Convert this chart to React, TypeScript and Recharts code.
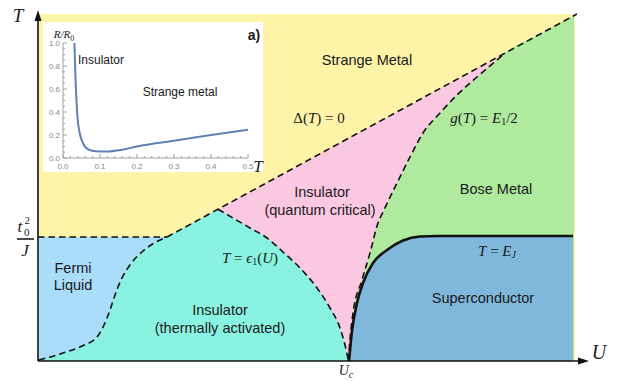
import React from 'react';
import { ComposedChart, LineChart, Area, Line, XAxis, YAxis, ReferenceLine, ReferenceDot } from 'recharts';

type Pt = { u: number; t: number };
const pts = (arr: number[][]): Pt[] => arr.map(([u, t]) => ({ u, t }));

// phase boundaries, as [U, T]
const T0_LEVEL = 12.4;
const TOP = [[0.1, 34.7], [53.7, 34.7]];
const CROSSOVER = [[0, 12.4], [12.9, 12.4]];
const DIAGONAL = [[12.9, 12.4], [53.9, 34.7]];
const PINK_TOP = [[12.9, 12.4], [53.6, 34.54]];
const FERMI_EDGE = [
  [0.1, 0.1], [2.2, 0.7], [4.4, 1.5], [5.9, 2.4], [6.6, 3.6], [7.2, 5.1], [7.7, 6.6],
  [8.3, 8.1], [9.2, 9.6], [10.5, 11.0], [11.8, 11.9], [12.9, 12.4],
];
const TEAL_LEFT = [[0.1, 12.4], [12.9, 12.4], [18.0, 15.17]];
const EPS_ARC = [
  [18.0, 15.17], [19.5, 14.3], [21.2, 13.3], [22.9, 12.3], [24.5, 10.9], [26.2, 9.3],
  [27.9, 7.3], [29.2, 5.3], [30.2, 3.3], [30.7, 1.6], [31.05, 0],
];
const G_CURVE = [
  [31.05, 0], [31.15, 1.5], [31.5, 4.8], [32.4, 8.1], [33.2, 10.8], [34.0, 13.8], [34.5, 14.9],
  [35.9, 17.8], [37.2, 20.4], [38.5, 22.8], [40.2, 24.8], [41.9, 26.6], [43.9, 28.4],
  [45.9, 30.1], [46.7, 30.8],
];
const GREEN_TOP = [...G_CURVE, [50.0, 32.6], [53.6, 34.54]];
const EJ_CURVE = [
  [31.1, 0], [31.4, 3.0], [31.9, 5.8], [32.5, 7.8], [33.5, 9.8], [34.9, 11.1], [36.5, 12.05],
  [38.2, 12.45], [40.0, 12.5], [53.5, 12.5],
];

// inset: R/R0 against T
const INSET_T = [0.031, 0.033, 0.036, 0.039, 0.045, 0.054, 0.068, 0.09, 0.115, 0.16, 0.2, 0.3, 0.4, 0.5];
const INSET_R = [1.0, 0.77, 0.53, 0.36, 0.22, 0.13, 0.075, 0.058, 0.056, 0.072, 0.1, 0.15, 0.2, 0.245];
const INSET_X_TICKS = [0, 0.02, 0.04, 0.06, 0.08, 0.1, 0.12, 0.14, 0.16, 0.18, 0.2, 0.22, 0.24, 0.26, 0.28, 0.3,
  0.32, 0.34, 0.36, 0.38, 0.4, 0.42, 0.44, 0.46, 0.48, 0.5];
const INSET_Y_TICKS = [0, 0.05, 0.1, 0.15, 0.2, 0.25, 0.3, 0.35, 0.4, 0.45, 0.5, 0.55, 0.6, 0.65, 0.7, 0.75,
  0.8, 0.85, 0.9, 0.95, 1.0];

const insetData = INSET_T.map((t, i) => ({ t, r: INSET_R[i] }));

const C = {
  yellow: '#FDF4A8',
  fermi: '#AADDFA',
  teal: '#8AF2E1',
  pink: '#FBC8E1',
  green: '#AFEA9E',
  sc: '#80B8DC',
  ink: '#111',
  frame: '#a0a0a0',
  tickText: '#8a8a8a',
};

const isMajor = (v: number, step: number) => Math.abs(v / step - Math.round(v / step)) < 1e-6;

const InsetTick = (side: 'bottom' | 'left' | 'top' | 'right') => (props: any) => {
  const { x, y, payload } = props;
  const v = payload.value as number;
  const step = side === 'bottom' || side === 'top' ? 0.1 : 0.2;
  const major = isMajor(v, step);
  const len = major ? 4 : 2;
  if (side === 'bottom')
    return (
      <g>
        <line x1={x} y1={y} x2={x} y2={y - len} stroke={C.frame} />
        {major && <text x={x} y={y + 8} textAnchor="middle" dominantBaseline="central" fontSize={8} fill={C.tickText} fontFamily="Liberation Sans, Arial, sans-serif">{v.toFixed(1)}</text>}
      </g>
    );
  if (side === 'left')
    return (
      <g>
        <line x1={x} y1={y} x2={x + len} y2={y} stroke={C.frame} />
        {major && <text x={x - 3} y={y} textAnchor="end" dominantBaseline="central" fontSize={8} fill={C.tickText} fontFamily="Liberation Sans, Arial, sans-serif">{v.toFixed(1)}</text>}
      </g>
    );
  if (side === 'top') return <line x1={x} y1={y} x2={x} y2={y + len} stroke={C.frame} />;
  return <line x1={x} y1={y} x2={x - len} y2={y} stroke={C.frame} />;
};

const ArrowRight = (p: any) => <path d={`M${p.cx + 1},${p.cy} l-11,-3.5 l0,7 z`} fill={C.ink} />;
const ArrowUp = (p: any) => <path d={`M${p.cx},${p.cy - 1} l-3.5,11 l7,0 z`} fill={C.ink} />;

const sans = 'Liberation Sans, Arial, Helvetica, sans-serif';
const serif = 'Liberation Serif, Times New Roman, serif';

const dashed = { stroke: C.ink, strokeWidth: 1.6, strokeDasharray: '6.5 4' };

const App: React.FC = () => {
  const fill = (key: string, data: number[][], color: string, type: 'linear' | 'monotone' = 'monotone') => (
    <Area key={key} data={pts(data)} dataKey="t" type={type} fill={color} fillOpacity={1} stroke="none"
      isAnimationActive={false} dot={false} activeDot={false} />
  );
  const edge = (key: string, data: number[][], style: any, type: 'linear' | 'monotone' = 'monotone') => (
    <Line key={key} data={pts(data)} dataKey="t" type={type} {...style} fill="none" dot={false}
      activeDot={false} isAnimationActive={false} />
  );

  return (
    <div style={{ position: 'relative', width: 615, height: 373 }}>
      <ComposedChart width={615} height={373} margin={{ top: 3, right: 35, bottom: 20, left: 30 }}>
        <XAxis type="number" dataKey="u" domain={[0, 55]} allowDataOverflow hide />
        <YAxis type="number" dataKey="t" domain={[0, 35]} allowDataOverflow hide />
        {fill('yellow', TOP, C.yellow, 'linear')}
        {fill('pink', PINK_TOP, C.pink, 'linear')}
        {fill('green', GREEN_TOP, C.green)}
        {fill('tealLeft', TEAL_LEFT, C.teal, 'linear')}
        {fill('tealArc', EPS_ARC, C.teal)}
        <Area data={pts(FERMI_EDGE)} dataKey={(d: Pt) => [d.t, T0_LEVEL]} type="monotone" fill={C.fermi}
          fillOpacity={1} stroke="none" isAnimationActive={false} dot={false} activeDot={false} />
        {fill('sc', EJ_CURVE, C.sc)}
        {edge('crossover', CROSSOVER, dashed, 'linear')}
        {edge('diagonal', DIAGONAL, dashed, 'linear')}
        {edge('fermi', FERMI_EDGE, dashed)}
        {edge('eps', EPS_ARC, dashed)}
        {edge('g', G_CURVE, dashed)}
        {edge('ej', EJ_CURVE, { stroke: C.ink, strokeWidth: 2.6 })}
        <ReferenceLine segment={[{ x: 0, y: 0 }, { x: 54.2, y: 0 }]} stroke={C.ink} strokeWidth={1.6} />
        <ReferenceLine segment={[{ x: 0, y: 0 }, { x: 0, y: 34.2 }]} stroke={C.ink} strokeWidth={1.6} />
        <ReferenceDot x={55} y={0} r={0} shape={ArrowRight} />
        <ReferenceDot x={0} y={35} r={0} shape={ArrowUp} />
      </ComposedChart>

      <div style={{ position: 'absolute', left: 35, top: 14, width: 220, height: 150, background: '#fff' }}>
        <LineChart width={220} height={150} data={insetData} margin={{ top: 21, right: 15, bottom: 0, left: 0 }}>
          <XAxis type="number" dataKey="t" domain={[0, 0.5]} allowDataOverflow ticks={INSET_X_TICKS} interval={0}
            height={14} tickSize={0} tickMargin={0} tickLine={false} axisLine={{ stroke: C.frame }}
            tick={InsetTick('bottom')} />
          <XAxis xAxisId="top" orientation="top" type="number" dataKey="t" domain={[0, 0.5]} allowDataOverflow
            ticks={INSET_X_TICKS} interval={0} height={0} tickSize={0} tickMargin={0} tickLine={false}
            axisLine={{ stroke: C.frame }} tick={InsetTick('top')} />
          <YAxis type="number" domain={[0, 1]} allowDataOverflow ticks={INSET_Y_TICKS} interval={0} width={20}
            tickSize={0} tickMargin={0} tickLine={false} axisLine={{ stroke: C.frame }} tick={InsetTick('left')} />
          <YAxis yAxisId="right" orientation="right" type="number" domain={[0, 1]} allowDataOverflow
            ticks={INSET_Y_TICKS} interval={0} width={0} tickSize={0} tickMargin={0} tickLine={false}
            axisLine={{ stroke: C.frame }} tick={InsetTick('right')} />
          <Line dataKey="r" type="monotone" stroke="#5E81B5" strokeWidth={2} dot={false} activeDot={false}
            isAnimationActive={false} />
        </LineChart>
      </div>

      {/* text layer, in page coordinates */}
      <svg width={623} height={381} viewBox="0 0 623 381"
        style={{ position: 'absolute', left: -8, top: -8, pointerEvents: 'none' }}>
        <g fill="#1a1a1a">
          {/* main axis labels */}
          <text x={18} y={22} textAnchor="middle" fontFamily={serif} fontStyle="italic" fontSize={19}>T</text>
          <text x={599} y={359} textAnchor="middle" fontFamily={serif} fontStyle="italic" fontSize={20}>U</text>
          <text x={346} y={375} textAnchor="middle" fontFamily={serif} fontStyle="italic" fontSize={14}>
            U<tspan dy={3} fontSize={10}>c</tspan>
          </text>
          <text x={17.5} y={232} fontFamily={serif} fontStyle="italic" fontSize={17}>t</text>
          <text x={24} y={235.5} fontFamily={serif} fontSize={11}>0</text>
          <text x={24.5} y={224} fontFamily={serif} fontSize={11}>2</text>
          <line x1={17} y1={239} x2={34} y2={239} stroke={C.ink} strokeWidth={1.5} />
          <text x={25} y={256} textAnchor="middle" fontFamily={serif} fontStyle="italic" fontSize={17}>J</text>

          {/* region labels */}
          <g fontFamily={sans} fontSize={14.5} textAnchor="middle" dominantBaseline="central">
            <text x={367} y={60}>Strange Metal</text>
            <text x={322} y={192}>Insulator</text>
            <text x={320} y={210}>(quantum critical)</text>
            <text x={496} y={189}>Bose Metal</text>
            <text x={483} y={298}>Superconductor</text>
            <text x={73} y={268}>Fermi</text>
            <text x={73} y={285}>Liquid</text>
            <text x={220} y={310}>Insulator</text>
            <text x={220} y={328}>(thermally activated)</text>
          </g>

          {/* boundary equations */}
          <g fontFamily={serif} fontSize={15} textAnchor="middle" dominantBaseline="central">
            <text x={319} y={118}>Δ(<tspan fontStyle="italic">T</tspan>) = 0</text>
            <text x={484} y={118}>
              <tspan fontStyle="italic">g</tspan>(<tspan fontStyle="italic">T</tspan>) = <tspan fontStyle="italic">E</tspan>
              <tspan dy={3} fontSize={10}>1</tspan><tspan dy={-3}>/2</tspan>
            </text>
            <text x={250} y={258}>
              <tspan fontStyle="italic">T</tspan> = <tspan fontStyle="italic">ϵ</tspan>
              <tspan dy={3} fontSize={10}>1</tspan><tspan dy={-3}>(</tspan><tspan fontStyle="italic">U</tspan>)
            </text>
            <text x={497} y={251}>
              <tspan fontStyle="italic">T</tspan> = <tspan fontStyle="italic">E</tspan>
              <tspan dy={3} fontSize={10} fontStyle="italic">J</tspan>
            </text>
          </g>

          {/* inset labels */}
          <text x={64} y={38} textAnchor="middle" fontFamily={serif} fontStyle="italic" fontSize={11}>
            R/R<tspan dy={2.5} fontSize={8} fontStyle="normal">0</tspan>
          </text>
          <text x={254} y={40} textAnchor="middle" fontFamily={sans} fontWeight="bold" fontSize={14}>a)</text>
          <text x={258} y={172} textAnchor="middle" fontFamily={serif} fontStyle="italic" fontSize={17}>T</text>
          <text x={101} y={60} textAnchor="middle" dominantBaseline="central" fontFamily={sans} fontSize={12}>Insulator</text>
          <text x={180} y={92} textAnchor="middle" dominantBaseline="central" fontFamily={sans} fontSize={12}>Strange metal</text>
        </g>
      </svg>
    </div>
  );
};

export default App;
